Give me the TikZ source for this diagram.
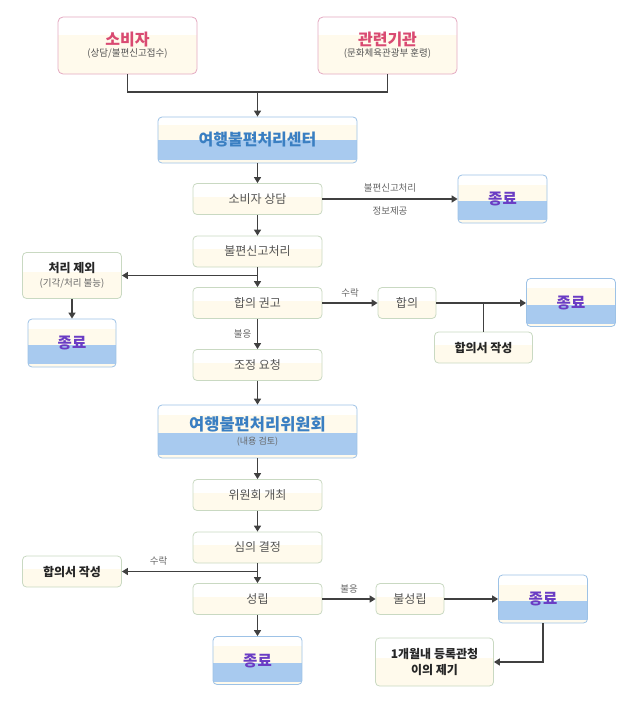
\documentclass[tikz,border=0pt]{standalone}
\usepackage{fontspec}
\setmainfont{Noto Sans CJK KR}
\usepackage{tikz}
\usepackage{color}
\usetikzlibrary{arrows.meta,calc}
\definecolor{cream}{HTML}{FFFAEC}
\definecolor{procline}{HTML}{C9D9C2}
\definecolor{proctxt}{HTML}{555555}
\definecolor{pinkline}{HTML}{E4A9C2}
\definecolor{pinktxt}{HTML}{D94A72}
\definecolor{bandblue}{HTML}{A8CAEF}
\definecolor{blueline}{HTML}{9DC2E6}
\definecolor{bluetxt}{HTML}{3A7FC2}
\definecolor{endtxt}{HTML}{6A3CC4}
\definecolor{wire}{HTML}{404040}
\definecolor{labtxt}{HTML}{666666}

\begin{document}
\begin{tikzpicture}[x=1pt,y=-1pt,
  proc/.style={draw=procline, fill=cream, rounded corners=4pt, line width=0.8pt,
    minimum width=129pt, minimum height=31pt, inner sep=2pt, text=proctxt,
    font=\fontsize{12}{14}\selectfont,
    path picture={\fill[white,sharp corners] (path picture bounding box.north west) rectangle
      ($(path picture bounding box.north east)!0.42!(path picture bounding box.south east)$);}},
  boldproc/.style={proc, text=black!85, font=\bfseries\fontsize{12}{16}\selectfont, align=center},
  origin/.style={draw=pinkline, fill=cream, rounded corners=5pt, line width=0.8pt,
    minimum width=139pt, minimum height=57pt, align=center,
    path picture={\fill[white,sharp corners] (path picture bounding box.north west) rectangle
      ($(path picture bounding box.north east)!0.32!(path picture bounding box.south east)$);}},
  bigbox/.style={draw=blueline, fill=cream, rounded corners=4pt, line width=0.8pt,
    minimum width=199pt, align=center, text=bluetxt,
    path picture={\fill[white,sharp corners] (path picture bounding box.north west) rectangle
        ($(path picture bounding box.north east)!0.18!(path picture bounding box.south east)$);
      \fill[bandblue,sharp corners] ($(path picture bounding box.north west)!#1!(path picture bounding box.south west)$) rectangle
        ($(path picture bounding box.north east)!0.94!(path picture bounding box.south east)$);}},
  endbox/.style={draw=blueline, fill=cream, rounded corners=4pt, line width=0.8pt,
    minimum width=89pt, minimum height=48pt, text=endtxt,
    font=\bfseries\fontsize{15.5}{17}\selectfont,
    path picture={\fill[white,sharp corners] (path picture bounding box.north west) rectangle
        ($(path picture bounding box.north east)!0.2!(path picture bounding box.south east)$);
      \fill[bandblue,sharp corners] ($(path picture bounding box.north west)!0.55!(path picture bounding box.south west)$) rectangle
        ($(path picture bounding box.north east)!0.94!(path picture bounding box.south east)$);}},
  flow/.style={draw=wire, line width=1.8pt},
  arr/.style={flow, -{Triangle[length=6pt,width=7pt]}},
  lab/.style={text=labtxt, font=\fontsize{9.5}{11}\selectfont}]
\useasboundingbox (0,0) rectangle (642,701);

\node[origin] (cons) at (127.5,45.5) {{\color{pinktxt}\bfseries\fontsize{16}{19}\selectfont 소비자}\\[-1pt]
  {\color{proctxt}\fontsize{9.5}{12}\selectfont (상담/불편신고접수)}};
\node[origin] (agency) at (387.5,45.5) {{\color{pinktxt}\bfseries\fontsize{16}{19}\selectfont 관련기관}\\[-1pt]
  {\color{proctxt}\fontsize{9.5}{12}\selectfont (문화체육관광부 훈령)}};
\node[bigbox=0.5, minimum height=46pt, font=\bfseries\fontsize{16}{18}\selectfont] (center) at (257.5,140) {여행불편처리센터};

\node[proc] (consult) at (257.5,199) {소비자 상담};
\node[endbox] (end1) at (502.5,199) {종료};
\node[proc] (report) at (257.5,251.5) {불편신고처리};
\node[boldproc, minimum width=99pt, minimum height=46pt] (excl) at (72,275.5) {처리 제외\\[-2pt]
  {\mdseries\color{labtxt}\fontsize{9.5}{12}\selectfont (기각/처리 불능)}};
\node[endbox, minimum width=88pt] (end2) at (72,343) {종료};
\node[proc] (advise) at (257.5,303) {합의 권고};
\node[proc, minimum width=58pt] (agree) at (407,303) {합의};
\node[endbox] (end3) at (571,302.5) {종료};
\node[boldproc, minimum width=98pt] (memo1) at (483.5,347.5) {합의서 작성};
\node[proc] (mediate) at (257.5,365) {조정 요청};

\node[bigbox=0.53, minimum height=53pt] (committee) at (257.5,431.5) {{\bfseries\fontsize{16.5}{18}\selectfont 여행불편처리위원회}\\[2pt]
  {\color{labtxt}\fontsize{9}{11}\selectfont (내용 검토)}};
\node[proc] (meeting) at (257.5,495) {위원회 개최};
\node[proc] (decision) at (257.5,547.5) {심의 결정};
\node[boldproc, minimum width=99pt] (memo2) at (72,571.5) {합의서 작성};
\node[proc] (success) at (257.5,599) {성립};
\node[proc, minimum width=68pt] (fail) at (410,599) {불성립};
\node[endbox] (end4) at (543,599) {종료};
\node[boldproc, minimum width=118pt, minimum height=48pt] (appeal) at (434.5,662) {1개월내 등록관청\\이의 제기};
\node[endbox] (end5) at (257.5,660.5) {종료};

\coordinate (join) at (257.5,92);
\draw[flow] (cons.south) |- (join) -| (agency.south);
\draw[arr] (join) -- (center.north);
\draw[arr] (center.south) -- (consult.north);
\draw[arr] (consult.east) -- node[lab, above=3pt] {불편신고처리} node[lab, below=3pt] {정보제공} (end1.west);
\draw[arr] (consult.south) -- (report.north);
\draw[arr] (report.south) -- (advise.north);
\draw[arr] (advise.north |- excl.east) -- (excl.east);
\draw[arr] (excl.south) -- (end2.north);
\draw[arr] (advise.east) -- node[lab, above=2pt] {수락} (agree.west);
\draw[arr] (agree.east) -- (end3.west |- agree.east);
\draw[flow] (memo1.north) -- (memo1.north |- agree.east);
\draw[arr] (advise.south) -- node[lab, left=2pt] {불응} (mediate.north);
\draw[arr] (mediate.south) -- (committee.north);
\draw[arr] (committee.south) -- (meeting.north);
\draw[arr] (meeting.south) -- (decision.north);
\draw[arr] (decision.south) -- (success.north);
\draw[arr] (success.north |- memo2.east) -- node[lab, above=2pt, pos=0.73] {수락} (memo2.east);
\draw[arr] (success.east) -- node[lab, above=2pt] {불응} (fail.west);
\draw[arr] (fail.east) -- (end4.west);
\draw[arr] (end4.south) |- (appeal.east);
\draw[arr] (success.south) -- (end5.north);
\end{tikzpicture}
\end{document}
